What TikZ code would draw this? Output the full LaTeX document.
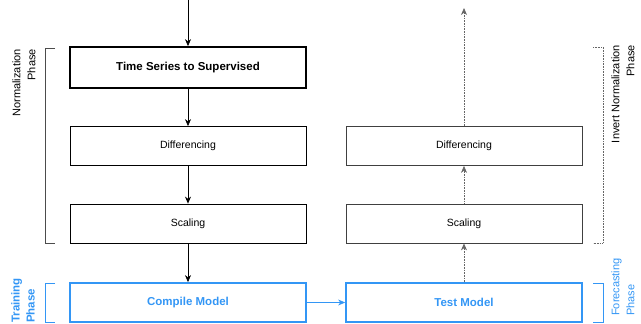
\documentclass[tikz,border=0pt]{standalone}
\usepackage{fontspec}
\setmainfont{Liberation Sans}
\usetikzlibrary{arrows.meta}
\definecolor{phaseblue}{RGB}{51,150,245}

\begin{document}
\begin{tikzpicture}[x=1pt,y=-1pt,
	stepbox/.style={draw,line width=0.8pt,minimum width=236pt,minimum height=39pt,inner sep=0pt,font=\fontsize{10.5}{12}\selectfont},
	mainbox/.style={stepbox,line width=1.8pt,minimum height=41pt,font=\fontsize{11.5}{13}\selectfont\bfseries},
	modelbox/.style={stepbox,draw=phaseblue,text=phaseblue,line width=1.8pt,font=\fontsize{11.5}{13}\selectfont\bfseries},
	invbox/.style={stepbox,draw=black!75},
	flow/.style={-{Stealth[length=7pt,width=6pt]},line width=0.7pt},
	invflow/.style={flow,draw=black!60,dash pattern=on 1pt off 0.6pt},
	bracket/.style={line width=0.8pt,draw=black!70},
	phaselabel/.style={rotate=90,inner sep=0pt,font=\fontsize{11}{15}\selectfont}]
			\useasboundingbox (0,0) rectangle (641,324);
			% training side
			\node[mainbox] (tss) at (188,67.5) {Time Series to Supervised};
			\node[stepbox] (diff) at (188,146) {Differencing};
			\node[stepbox] (scal) at (188,223.5) {Scaling};
			\node[modelbox] (compile) at (188,302.5) {Compile Model};
			% forecasting side
			\node[invbox] (invdiff) at (464,146) {Differencing};
			\node[invbox] (invscal) at (464,223.5) {Scaling};
			\node[modelbox] (test) at (464,302.5) {Test Model};
			\coordinate (entry) at (188,0);
			\coordinate (exit) at (464,8);
			% arrows
			\draw[flow] (entry) -- (tss);
			\draw[flow] (tss) -- (diff);
			\draw[flow] (diff) -- (scal);
			\draw[flow] (scal) -- (compile);
			\draw[flow,draw=phaseblue] (compile) -- (test);
			\draw[invflow] (test) -- (invscal);
			\draw[invflow] (invscal) -- (invdiff);
			\draw[invflow] (invdiff) -- (exit);
			% phase brackets
			\draw[bracket] (55,48) -- (45,48) -- (45,243) -- (55,243);
			\draw[bracket,dash pattern=on 1pt off 0.6pt,draw=black!60] (593,47) -- (603,47) -- (603,243) -- (593,243);
			\draw[bracket,draw=phaseblue] (55,283) -- (45,283) -- (45,322) -- (55,322);
			\draw[bracket,draw=phaseblue] (593,283) -- (603,283) -- (603,322) -- (593,322);
			\node[phaselabel,anchor=east,align=right] (normlbl) at (24,49) {Normalization\\Phase};
			\node[phaselabel,anchor=east,align=right] (invlbl) at (623,45) {Invert Normalization\\Phase};
			\node[phaselabel,anchor=west,align=left,text=phaseblue,font=\fontsize{11.5}{15}\selectfont\bfseries] (trainlbl) at (23,323) {Training\\Phase};
			\node[phaselabel,anchor=west,align=left,text=phaseblue] (forelbl) at (623,316) {Forecasting\\Phase};
		\end{tikzpicture}
\end{document}
